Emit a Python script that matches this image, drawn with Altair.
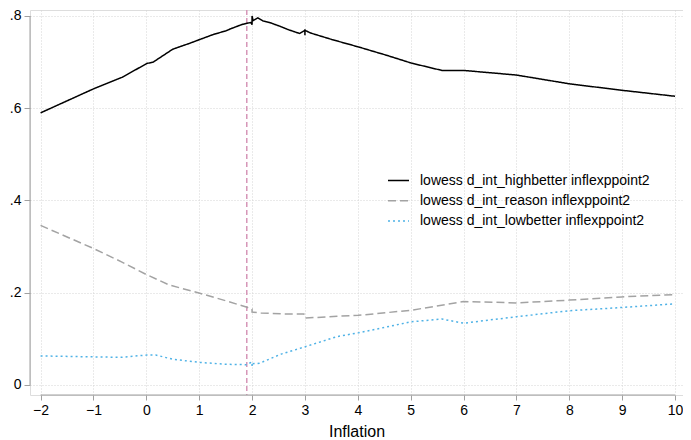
import altair as alt
import pandas as pd

# ---- data ----
hb_x = [-2.0, -1.0, -0.46, 0.01, 0.13, 0.50, 0.80, 1.01, 1.27, 1.51, 1.61, 1.82, 1.98, 2.0, 2.0, 2.02, 2.11, 2.21, 2.33, 2.52, 2.67, 2.90, 3.0, 3.0, 3.0, 3.11, 3.51, 4.01, 4.54, 5.01, 5.59, 6.0, 7.0, 8.0, 8.99, 10.0]
hb_y = [0.590, 0.642, 0.667, 0.697, 0.700, 0.728, 0.740, 0.749, 0.760, 0.768, 0.773, 0.782, 0.786, 0.781, 0.800, 0.790, 0.796, 0.789, 0.786, 0.778, 0.771, 0.762, 0.769, 0.758, 0.769, 0.763, 0.749, 0.733, 0.715, 0.698, 0.682, 0.682, 0.672, 0.653, 0.639, 0.626]

rs_x = [-2.0, -1.0, -0.47, 0.01, 0.43, 1.01, 1.55, 1.89, 2.0, 2.0, 2.17, 2.61, 2.98, 3.0, 3.61, 4.01, 5.01, 6.0, 7.0, 8.0, 8.99, 10.0]
rs_y = [0.346, 0.296, 0.267, 0.239, 0.217, 0.199, 0.181, 0.169, 0.165, 0.158, 0.156, 0.154, 0.154, 0.145, 0.149, 0.151, 0.162, 0.181, 0.178, 0.184, 0.191, 0.196]

lb_x = [-2.0, -1.0, -0.47, 0.01, 0.18, 0.49, 1.01, 1.49, 1.89, 2.0, 2.0, 2.0, 2.14, 2.55, 2.98, 3.61, 4.01, 5.01, 5.59, 6.0, 7.0, 8.0, 8.99, 10.0]
lb_y = [0.063, 0.061, 0.060, 0.065, 0.065, 0.056, 0.049, 0.045, 0.044, 0.050, 0.041, 0.046, 0.047, 0.067, 0.082, 0.105, 0.113, 0.137, 0.143, 0.134, 0.148, 0.161, 0.168, 0.176]

series_names = [
    "lowess d_int_highbetter inflexppoint2",
    "lowess d_int_reason inflexppoint2",
    "lowess d_int_lowbetter inflexppoint2",
]
series_colors = ["#000000", "#a3a3a3", "#4fb2e6"]
series_dash = [[1, 0], [8, 4], [2, 3]]

x_ticks = [-2, -1, 0, 1, 2, 3, 4, 5, 6, 7, 8, 9, 10]
y_ticks = [0, 0.2, 0.4, 0.6, 0.8]
x_domain = [-2.2, 10.151]
y_domain = [-0.0217, 0.8130]
ref_x = 1.9

rows = []
for name, xs, ys in zip(series_names, [hb_x, rs_x, lb_x], [hb_y, rs_y, lb_y]):
    for i, (a, b) in enumerate(zip(xs, ys)):
        rows.append({"series": name, "x": a, "y": b, "ord": i})
df = pd.DataFrame(rows)

xs = alt.Scale(domain=x_domain, nice=False, zero=False)
ys = alt.Scale(domain=y_domain, nice=False, zero=False)

axis_grey = "#a0a0a0"

leg = dict(title=None, orient="none", legendX=357, legendY=159,
           symbolType="stroke", symbolSize=441, symbolStrokeWidth=1.5,
           labelFontSize=14, labelOffset=10, rowPadding=1.2,
           labelLimit=500, labelColor="#000")

lines = alt.Chart(df).mark_line(strokeWidth=1.5, clip=False).encode(
    x=alt.X("x:Q", scale=xs, axis=alt.Axis(
        values=x_ticks, title="Inflation", domain=False, tickSize=5,
        tickColor=axis_grey, labelFontSize=14, labelPadding=3,
        titleFontSize=16, titleFontWeight="normal", titleColor="#000",
        titlePadding=6, labelColor="#000",
        grid=True, gridColor="#d4d4d4", gridDash=[1, 2])),
    y=alt.Y("y:Q", scale=ys, axis=alt.Axis(
        values=y_ticks, title=None, domain=False, tickSize=6,
        tickColor=axis_grey, labelFontSize=14, labelPadding=3,
        labelColor="#000",
        labelExpr="datum.value == 0 ? '0' : substring(format(datum.value, '.1f'), 1)",
        grid=True, gridColor="#d4d4d4", gridDash=[1, 2])),
    color=alt.Color("series:N", scale=alt.Scale(domain=series_names, range=series_colors),
                    legend=alt.Legend(**leg)),
    strokeDash=alt.StrokeDash("series:N", scale=alt.Scale(domain=series_names, range=series_dash),
                              legend=alt.Legend(**leg)),
    order="ord:Q",
)

# partial axis lines (Stata style)
yline = alt.Chart(pd.DataFrame({"x": [x_domain[0]], "y": [min(y_ticks)], "y2": [max(y_ticks)]})).mark_rule(
    color=axis_grey, strokeWidth=1).encode(x=alt.X("x:Q", scale=xs), y=alt.Y("y:Q", scale=ys), y2="y2:Q")
xline = alt.Chart(pd.DataFrame({"y": [y_domain[0]], "x": [min(x_ticks)], "x2": [max(x_ticks)]})).mark_rule(
    color=axis_grey, strokeWidth=1).encode(y=alt.Y("y:Q", scale=ys), x=alt.X("x:Q", scale=xs), x2="x2:Q")

vline = alt.Chart(pd.DataFrame({"x": [ref_x]})).mark_rule(
    color="#d696b8", strokeWidth=1.5, strokeDash=[5, 3]).encode(x=alt.X("x:Q", scale=xs))

chart = alt.layer(vline, lines, yline, xline).properties(
    width=653, height=385,
    autosize=alt.AutoSizeParams(type="none"),
    padding={"left": 22, "top": 2, "right": 0, "bottom": 45},
).configure_view(stroke=None).configure(
    font="Liberation Sans", background="white"
)

chart.save("out.html", embed_options={"renderer": "svg", "actions": False})
